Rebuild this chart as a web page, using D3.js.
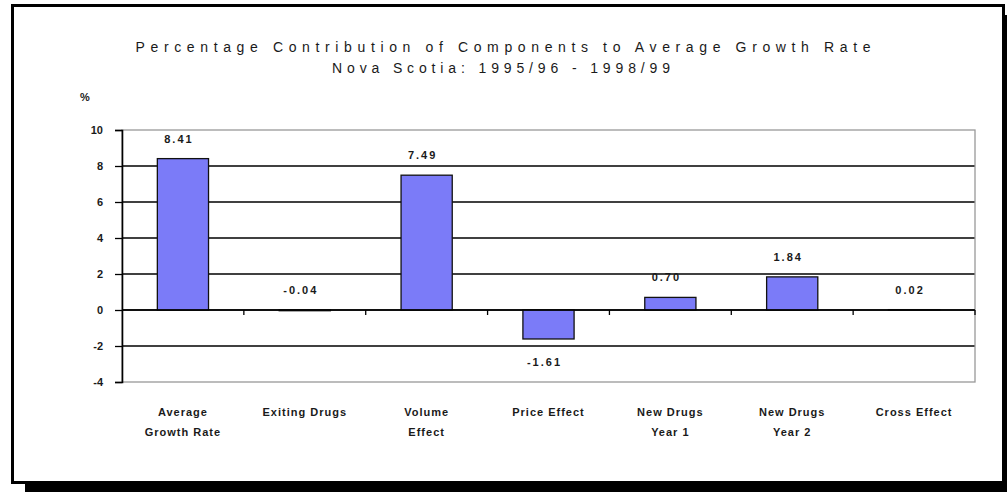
<!DOCTYPE html>
<html>
<head>
<meta charset="utf-8">
<script src="https://cdn.jsdelivr.net/npm/d3@7"></script>
<style>
  body { margin: 0; background: white; }
  svg text { font-family: "Liberation Sans", Arial, sans-serif; fill: #1a1a1a; }
</style>
</head>
<body>
<svg id="chart" width="1007" height="492"></svg>
<script>
var categories = [["Average", "Growth Rate"], ["Exiting Drugs"], ["Volume", "Effect"], ["Price Effect"], ["New Drugs", "Year 1"], ["New Drugs", "Year 2"], ["Cross Effect"]];
var values = [8.41, -0.04, 7.49, -1.61, 0.70, 1.84, 0.02];
var yTicks = [-4, -2, 0, 2, 4, 6, 8, 10];
var titleLines = ["Percentage Contribution of Components to Average Growth Rate", "Nova Scotia: 1995/96 - 1998/99"];

var svg = d3.select("#chart");

// frame with drop shadow
svg.append("rect").attr("x", 25).attr("y", 15).attr("width", 1000).attr("height", 490).style("fill", "black");
svg.append("rect").attr("x", 12.5).attr("y", 5.5).attr("width", 991).attr("height", 477)
   .style("fill", "white").style("stroke", "black").style("stroke-width", 3);

var plotLeft = 122, plotRight = 975, plotTop = 130, plotBottom = 382;

var x = d3.scaleBand().domain(d3.range(values.length)).range([plotLeft, plotRight]).paddingInner(0.58).paddingOuter(0.29);
var y = d3.scaleLinear().domain([-4, 10]).range([plotBottom, plotTop]);

// title
svg.append("text").attr("x", 503).attr("y", 52).attr("text-anchor", "middle")
   .attr("textLength", 735).attr("lengthAdjust", "spacing")
   .style("font-size", "14px").text(titleLines[0]);
svg.append("text").attr("x", 501).attr("y", 73).attr("text-anchor", "middle")
   .attr("textLength", 338).attr("lengthAdjust", "spacing")
   .style("font-size", "14px").text(titleLines[1]);

svg.append("text").attr("x", 80).attr("y", 101).style("font-size", "11px").style("font-weight", "bold").text("%");

// gridlines
svg.selectAll(".grid").data(yTicks.filter(function(d){ return d != 10 && d != -4; }))
   .enter().append("line")
   .attr("x1", plotLeft).attr("x2", plotRight)
   .attr("y1", function(d){ return y(d); }).attr("y2", function(d){ return y(d); })
   .style("stroke", "black").style("stroke-width", 1.3);

// plot border (gray)
svg.append("rect").attr("x", plotLeft).attr("y", y(10)).attr("width", plotRight - plotLeft).attr("height", y(-4) - y(10))
   .style("fill", "none").style("stroke", "#999").style("stroke-width", 1.3);

// y axis
var yAxis = d3.axisLeft(y).tickValues(yTicks).tickSize(7).tickPadding(12).tickFormat(function(d){ return String(d); });
var ya = svg.append("g").attr("transform", "translate(" + plotLeft + ",0)").call(yAxis);
ya.select(".domain").style("stroke", "black").style("stroke-width", 1.6);
ya.selectAll(".tick line").style("stroke", "black").style("stroke-width", 1.3);
ya.selectAll(".tick text").style("font-size", "11px").style("font-weight", "bold")
  .style("font-family", "Liberation Sans, Arial, sans-serif").style("fill", "#1a1a1a");

// bars
svg.selectAll(".bar").data(values).enter().append("rect")
   .attr("x", function(d, i){ return x(i); })
   .attr("y", function(d){ return y(Math.max(d, 0)); })
   .attr("width", x.bandwidth())
   .attr("height", function(d){ return Math.abs(y(d) - y(0)); })
   .style("fill", "#7b7bf8").style("stroke", "#111").style("stroke-width", 1.3);

// zero line and category ticks
svg.append("line").attr("x1", plotLeft).attr("x2", plotRight).attr("y1", y(0)).attr("y2", y(0))
   .style("stroke", "black").style("stroke-width", 1.3);
svg.selectAll(".ctick").data(d3.range(1, values.length + 1)).enter().append("line")
   .attr("x1", function(i){ return plotLeft + i * x.step(); }).attr("x2", function(i){ return plotLeft + i * x.step(); })
   .attr("y1", y(0)).attr("y2", y(0) + 5)
   .style("stroke", "black").style("stroke-width", 1.3);

// value labels
var f = function(d){ return d3.format(".2f")(d).replace("\u2212", "-"); };
svg.selectAll(".vlab").data(values).enter().append("text")
   .attr("x", function(d, i){ return x(i) + x.bandwidth() / 2 - 4; })
   .attr("y", function(d){ return d < -0.5 ? y(d) + 27 : y(Math.max(d, 0)) - 16; })
   .attr("text-anchor", "middle")
   .style("font-size", "11px").style("font-weight", "bold").style("letter-spacing", "2px")
   .text(f);

// category labels
categories.forEach(function(lines, i){
  lines.forEach(function(s, k){
    svg.append("text").attr("x", x(i) + x.bandwidth() / 2).attr("y", 416 + k * 20)
       .attr("text-anchor", "middle")
       .style("font-size", "11px").style("font-weight", "bold").style("letter-spacing", "1px")
       .text(s);
  });
});
</script>
</body>
</html>
